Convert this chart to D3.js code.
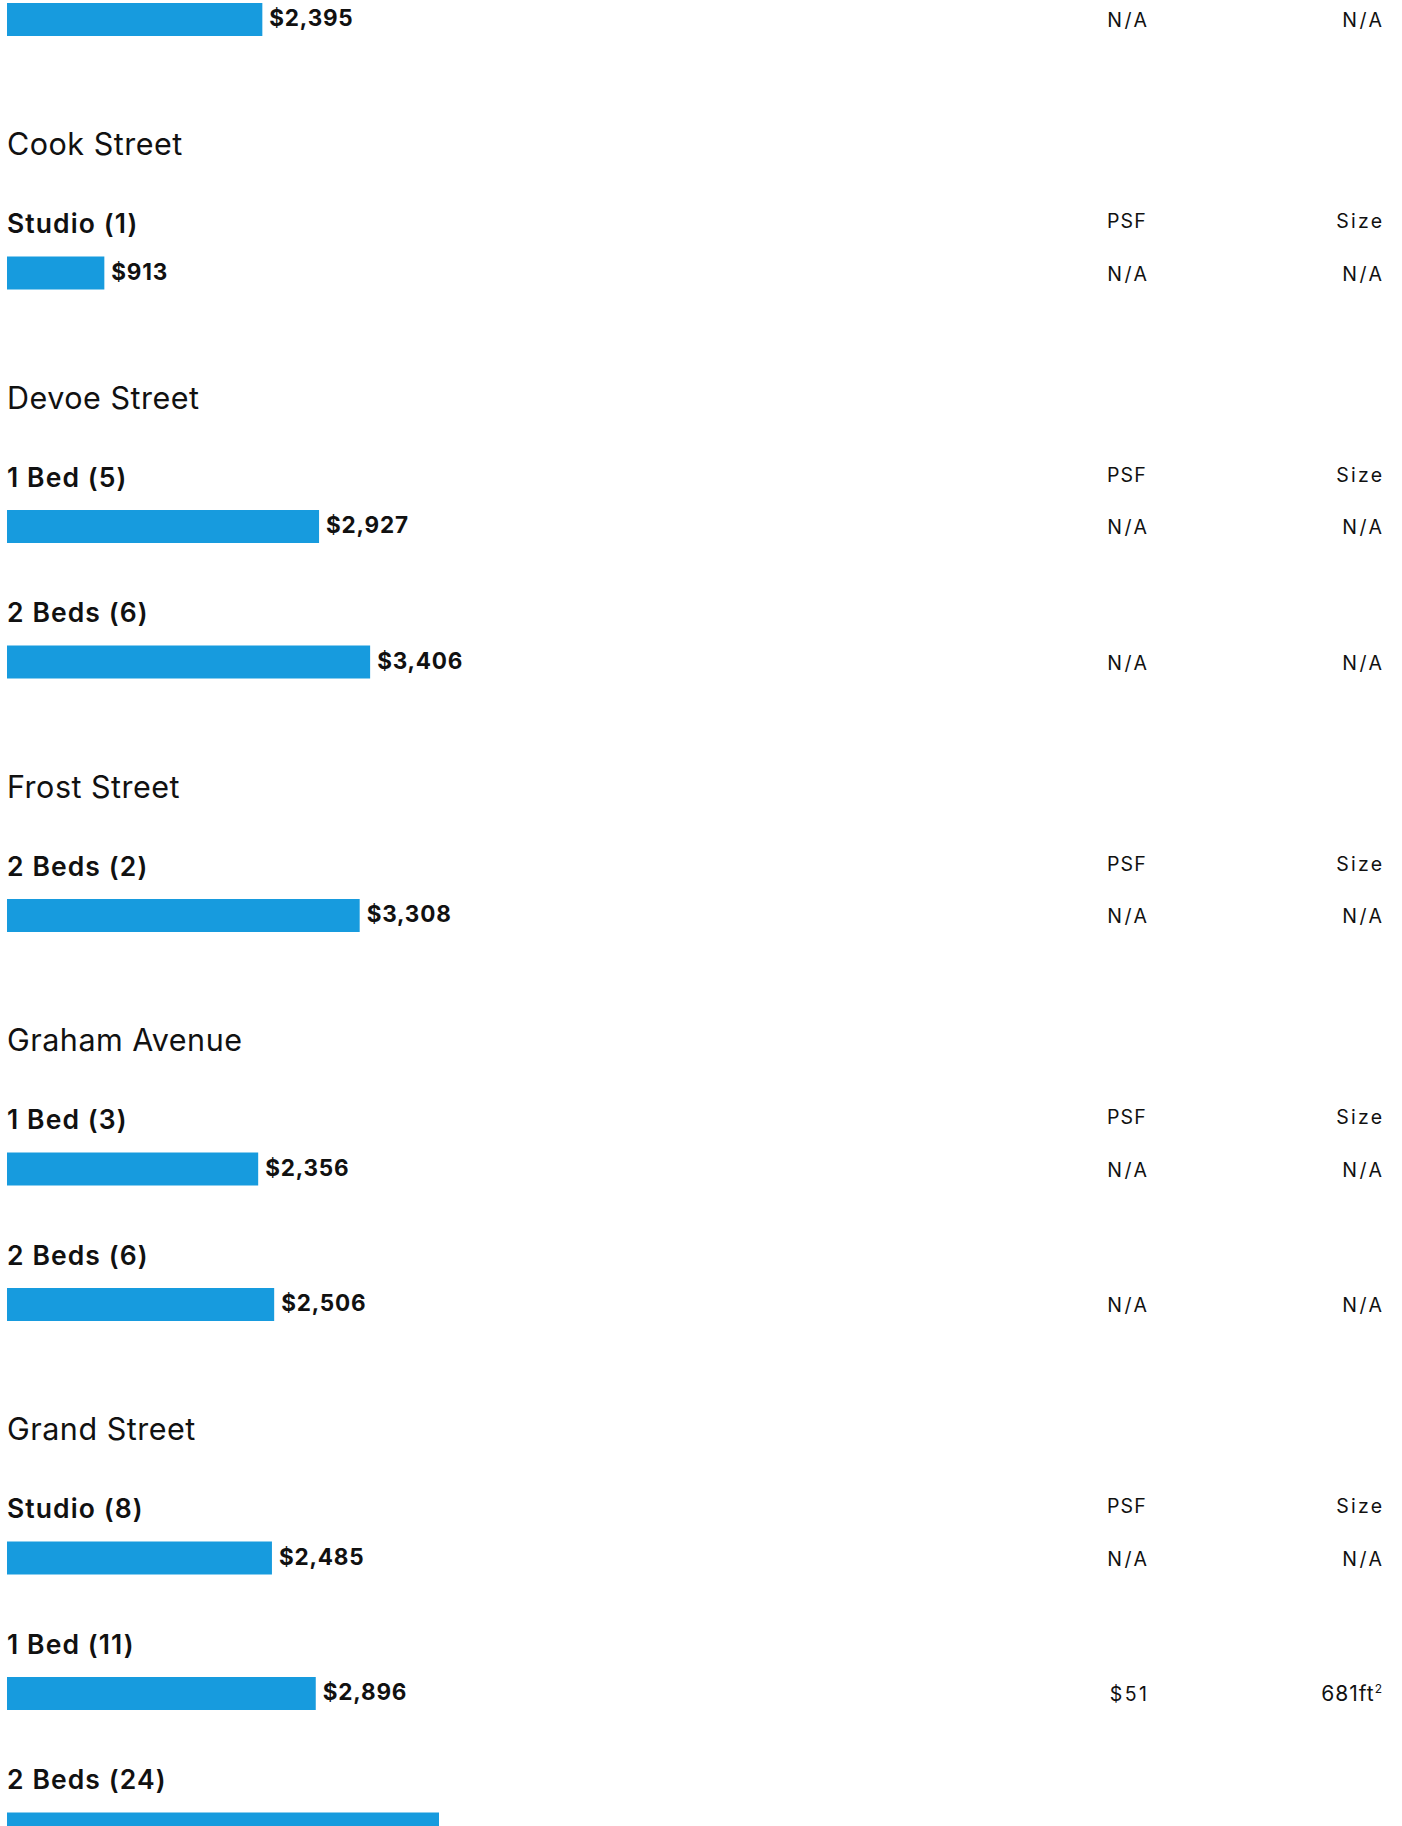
<!DOCTYPE html>
<html>
<head>
<meta charset="utf-8">
<script src="https://cdn.jsdelivr.net/npm/d3@7"></script>
<style>
  html, body { margin: 0; padding: 0; background: #ffffff; }
  svg { display: block; }
  text { font-family: Inter, "Noto Sans", sans-serif; fill: #111111; }
</style>
</head>
<body>
<div id="chart"></div>
<script>
// ---- data ----
const groupNames = ["", "Cook Street", "Devoe Street", "Frost Street", "Graham Avenue", "Grand Street"];
const itemGroup  = [0, 1, 2, 2, 3, 4, 4, 5, 5, 5];
const itemLabels = [null, "Studio (1)", "1 Bed (5)", "2 Beds (6)", "2 Beds (2)", "1 Bed (3)", "2 Beds (6)", "Studio (8)", "1 Bed (11)", "2 Beds (24)"];
const rents      = [2395, 913, 2927, 3406, 3308, 2356, 2506, 2485, 2896, 4052];
const psfValues  = [null, null, null, null, null, null, null, null, 51, null];
const sizeValues = [null, null, null, null, null, null, null, null, 681, null];
const headerLabels = ["PSF", "Size"];

// ---- layout ----
const W = 1402, H = 1826;
const barX = 7, barMaxW = 432, barH = 33;
const headingGap = 119, headingToLabel = 78, itemGap = 79, labelToBar = 23.5;
const psfRight = 1147, sizeRight = 1382;

const svg = d3.select("#chart").append("svg").attr("width", W).attr("height", H);

const x = d3.scaleLinear().domain([0, d3.max(rents)]).range([0, barMaxW]);
const fmt = d3.format("$,");

// compute vertical positions
const rows = [];
const headings = [];
let prevBottom = null;
groupNames.forEach((name, g) => {
  const idx = itemGroup.map((gg, i) => gg === g ? i : -1).filter(i => i >= 0);
  let labelY;
  if (name) {
    const hy = prevBottom + headingGap;
    headings.push({ name, y: hy });
    labelY = hy + headingToLabel;
  } else {
    labelY = 3 - labelToBar;
  }
  idx.forEach((i, k) => {
    if (k > 0) labelY = prevBottom + itemGap;
    const barTop = labelY + labelToBar;
    rows.push({ i, first: k === 0 && !!name, labelY, barTop, textY: barTop + barH / 2 });
    prevBottom = barTop + barH;
  });
});
// only rows whose value line fits inside the picture get their texts
const textRows = rows.filter(r => r.textY + 7 <= H);

// headings
svg.selectAll("text.heading").data(headings).join("text")
  .attr("class", "heading")
  .attr("x", barX)
  .attr("y", d => d.y)
  .style("font-size", "30.5px")
  .style("font-weight", 400)
  .style("letter-spacing", "0.5px")
  .text(d => d.name);

// item labels
svg.selectAll("text.item").data(rows.filter(r => itemLabels[r.i])).join("text")
  .attr("class", "item")
  .attr("x", barX)
  .attr("y", d => d.labelY)
  .style("font-size", "26.5px")
  .style("font-weight", 600)
  .style("letter-spacing", "1.1px")
  .text(d => itemLabels[d.i]);

// column headers (first item of each named group)
const hdrRows = rows.filter(r => r.first);
svg.selectAll("text.hpsf").data(hdrRows).join("text")
  .attr("class", "hpsf")
  .attr("x", psfRight)
  .attr("y", d => d.labelY - 5)
  .attr("text-anchor", "end")
  .style("font-size", "19.5px")
  .style("letter-spacing", "1.2px")
  .text(headerLabels[0]);
svg.selectAll("text.hsize").data(hdrRows).join("text")
  .attr("class", "hsize")
  .attr("x", sizeRight + 2.5)
  .attr("y", d => d.labelY - 5)
  .attr("text-anchor", "end")
  .style("font-size", "19.5px")
  .style("letter-spacing", "2.3px")
  .text(headerLabels[1]);

// bars
svg.selectAll("rect.bar").data(rows).join("rect")
  .attr("class", "bar")
  .attr("x", barX)
  .attr("y", d => d.barTop)
  .attr("width", d => x(rents[d.i]))
  .attr("height", barH)
  .attr("fill", "#179bde");

// value labels
svg.selectAll("text.val").data(textRows).join("text")
  .attr("class", "val")
  .attr("x", d => barX + x(rents[d.i]) + 7)
  .attr("y", d => d.textY + 6.5)
  .style("font-size", "22.5px")
  .style("font-weight", 700)
  .style("letter-spacing", "0.8px")
  .text(d => fmt(rents[d.i]));

// PSF values
svg.selectAll("text.psf").data(textRows).join("text")
  .attr("class", "psf")
  .attr("x", psfRight + 2.5)
  .attr("y", d => d.textY + 7.5)
  .attr("text-anchor", "end")
  .style("font-size", "19.5px")
  .style("letter-spacing", "2.5px")
  .text(d => psfValues[d.i] == null ? "N/A" : "$" + psfValues[d.i]);

// Size values
const sz = svg.selectAll("text.size").data(textRows).join("text")
  .attr("class", "size")
  .attr("x", sizeRight + 2.5)
  .attr("y", d => d.textY + 7.5)
  .attr("text-anchor", "end")
  .style("font-size", "19.5px")
  .style("letter-spacing", "2.5px");
sz.each(function(d) {
  const t = d3.select(this);
  const v = sizeValues[d.i];
  if (v == null) { t.text("N/A"); return; }
  t.attr("x", sizeRight + 1).style("letter-spacing", "1px").style("font-size", "21px");
  t.append("tspan").text(v + "ft");
  t.append("tspan").attr("dy", -8).style("font-size", "12px").text("2");
});
</script>
</body>
</html>
